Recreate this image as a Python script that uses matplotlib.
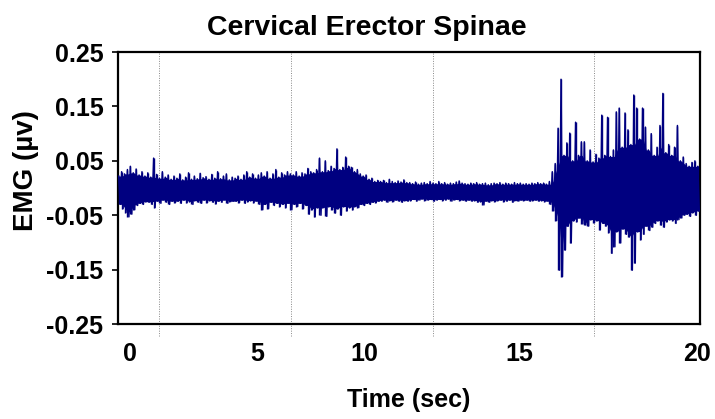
import numpy as np
import matplotlib.pyplot as plt

plt.rcParams['font.family'] = ['Liberation Sans', 'DejaVu Sans']
plt.rcParams['font.weight'] = 'bold'

# EMG trace: positive peak and negative trough
# for every 0.1 s slot, 0 - 20 s (one row per second)
emg_peak = [
    0.022, 0.030, 0.026, 0.034, 0.040, 0.028, 0.035, 0.024, 0.030, 0.022,
    0.028, 0.020, 0.055, 0.025, 0.018, 0.030, 0.020, 0.024, 0.016, 0.022,
    0.018, 0.026, 0.015, 0.020, 0.028, 0.016, 0.022, 0.017, 0.027, 0.019,
    0.021, 0.016, 0.025, 0.018, 0.030, 0.017, 0.022, 0.026, 0.015, 0.020,
    0.018, 0.022, 0.016, 0.024, 0.030, 0.020, 0.026, 0.018, 0.024, 0.028,
    0.022, 0.030, 0.018, 0.026, 0.034, 0.020, 0.028, 0.024, 0.030, 0.026,
    0.024, 0.030, 0.022, 0.028, 0.026, 0.036, 0.030, 0.028, 0.034, 0.055,
    0.030, 0.050, 0.032, 0.040, 0.036, 0.072, 0.034, 0.038, 0.057, 0.040,
    0.038, 0.030, 0.034, 0.026, 0.022, 0.024, 0.016, 0.018, 0.012, 0.014,
    0.012, 0.014, 0.010, 0.016, 0.012, 0.010, 0.013, 0.011, 0.015, 0.010,
    0.010, 0.008, 0.011, 0.007, 0.009, 0.010, 0.008, 0.012, 0.009, 0.008,
    0.012, 0.008, 0.010, 0.007, 0.009, 0.008, 0.011, 0.013, 0.009, 0.008,
    0.007, 0.009, 0.008, 0.010, 0.007, 0.008, 0.009, 0.006, 0.008, 0.009,
    0.008, 0.010, 0.007, 0.009, 0.008, 0.007, 0.010, 0.008, 0.009, 0.007,
    0.008, 0.007, 0.009, 0.008, 0.010, 0.008, 0.009, 0.007, 0.012, 0.030,
    0.045, 0.110, 0.200, 0.060, 0.083, 0.101, 0.050, 0.121, 0.060, 0.085,
    0.085, 0.050, 0.070, 0.048, 0.062, 0.055, 0.134, 0.060, 0.130, 0.058,
    0.070, 0.140, 0.147, 0.075, 0.138, 0.107, 0.080, 0.171, 0.147, 0.090,
    0.147, 0.112, 0.070, 0.100, 0.060, 0.075, 0.115, 0.174, 0.065, 0.080,
    0.060, 0.075, 0.115, 0.050, 0.057, 0.045, 0.040, 0.047, 0.050, 0.040,
]
emg_trough = [
    -0.030, -0.038, -0.045, -0.053, -0.048, -0.040, -0.032, -0.028, -0.030, -0.025,
    -0.026, -0.030, -0.036, -0.024, -0.028, -0.022, -0.026, -0.030, -0.024, -0.027,
    -0.024, -0.028, -0.022, -0.027, -0.025, -0.030, -0.023, -0.026, -0.028, -0.022,
    -0.027, -0.023, -0.026, -0.029, -0.024, -0.026, -0.022, -0.028, -0.025, -0.024,
    -0.024, -0.027, -0.022, -0.028, -0.025, -0.023, -0.027, -0.024, -0.030, -0.040,
    -0.030, -0.038, -0.026, -0.032, -0.028, -0.034, -0.030, -0.036, -0.028, -0.040,
    -0.030, -0.034, -0.028, -0.038, -0.032, -0.048, -0.040, -0.053, -0.036, -0.050,
    -0.036, -0.052, -0.034, -0.040, -0.046, -0.038, -0.050, -0.034, -0.042, -0.036,
    -0.040, -0.034, -0.036, -0.030, -0.032, -0.028, -0.030, -0.026, -0.027, -0.024,
    -0.024, -0.022, -0.026, -0.023, -0.025, -0.022, -0.024, -0.026, -0.023, -0.024,
    -0.023, -0.021, -0.024, -0.022, -0.020, -0.023, -0.022, -0.021, -0.024, -0.022,
    -0.021, -0.023, -0.022, -0.020, -0.024, -0.022, -0.021, -0.023, -0.022, -0.024,
    -0.022, -0.024, -0.023, -0.026, -0.025, -0.031, -0.024, -0.026, -0.023, -0.025,
    -0.023, -0.022, -0.025, -0.024, -0.022, -0.026, -0.023, -0.024, -0.022, -0.023,
    -0.022, -0.024, -0.023, -0.022, -0.024, -0.023, -0.025, -0.024, -0.030, -0.042,
    -0.060, -0.151, -0.163, -0.114, -0.070, -0.101, -0.060, -0.062, -0.055, -0.066,
    -0.068, -0.070, -0.058, -0.064, -0.060, -0.077, -0.065, -0.070, -0.082, -0.120,
    -0.108, -0.080, -0.101, -0.075, -0.085, -0.090, -0.151, -0.138, -0.080, -0.095,
    -0.085, -0.070, -0.078, -0.072, -0.065, -0.060, -0.068, -0.072, -0.062, -0.058,
    -0.060, -0.065, -0.058, -0.055, -0.050, -0.048, -0.052, -0.045, -0.050, -0.042,
]

# the original figure puts its labels and grid lines off the even seconds
xtick_pos = [0.41, 4.80, 8.45, 13.78, 19.90]
xtick_labels = ['0', '5', '10', '15', '20']
grid_pos = [1.41, 5.95, 10.82, 16.36]
ytick_vals = [0.25, 0.15, 0.05, -0.05, -0.15, -0.25]

navy = '#000080'

# zig-zag between peak and trough
slot = 0.1
peak = np.array(emg_peak)
trough = np.array(emg_trough)
t_peak = np.arange(len(peak)) * slot + 0.025
t_trough = t_peak + slot / 2
t = np.column_stack([t_peak, t_trough]).ravel()
v = np.column_stack([peak, trough]).ravel()

# solid core of the band: what neighbouring slots have in common,
# so single spikes still stick out as thin lines
pk = np.pad(peak, 1, mode='edge')
tr = np.pad(trough, 1, mode='edge')
core_hi = np.minimum.reduce([pk[:-2], pk[1:-1], pk[2:]])
core_lo = np.maximum.reduce([tr[:-2], tr[1:-1], tr[2:]])

fig = plt.figure(figsize=(7.15, 4.19), dpi=100)
ax = fig.add_axes([0.165, 0.2267, 0.814, 0.649])

for g in grid_pos:
    ax.axvline(g, ymin=-0.045, ymax=1, color='#888888', lw=0.7,
               ls=(0, (1, 1.5)), clip_on=False, zorder=1)

ax.fill_between(t_peak + slot / 4, core_lo, core_hi, color=navy, lw=0,
                zorder=2)
ax.plot(t, v, color=navy, lw=1.1, zorder=3)
ax.vlines(t_peak, trough, peak, color=navy, lw=1.0, zorder=3)

ax.set_xlim(0, 20)
ax.set_ylim(-0.25, 0.25)
ax.set_yticks(ytick_vals)
ax.set_yticklabels(['%.2f' % y for y in ytick_vals])
ax.set_xticks(xtick_pos)
ax.set_xticklabels(xtick_labels)

ax.tick_params(axis='x', length=0, pad=13, labelsize=18)
ax.tick_params(axis='y', length=4.5, width=1.2, pad=6, labelsize=18)

for s in ax.spines.values():
    s.set_linewidth(1.6)

ax.set_xlabel('Time (sec)', fontsize=18, fontweight='bold')
ax.xaxis.set_label_coords(0.5, -0.235)
ax.set_ylabel('EMG (µv)', fontsize=20, fontweight='bold')
ax.yaxis.set_label_coords(-0.135, 0.5625)

fig.text(0.513, 1 - 35 / 419, 'Cervical Erector Spinae', ha='center',
         va='baseline', fontsize=20.5, fontweight='bold')

fig.savefig('out.png', dpi=100)
